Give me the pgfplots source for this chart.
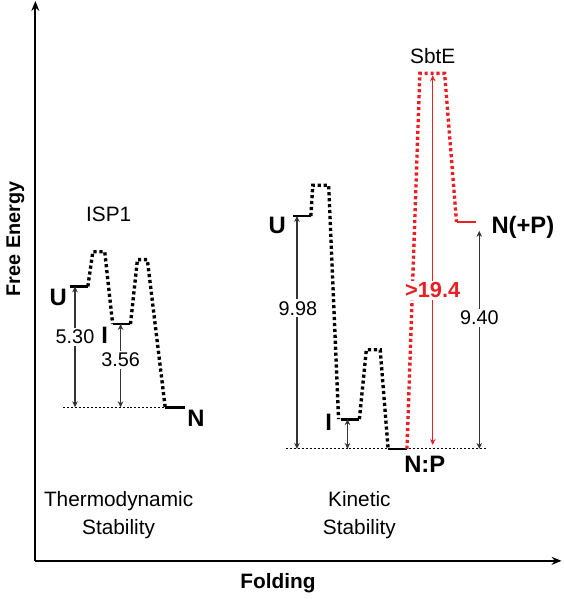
\documentclass[border=0pt]{standalone}
\usepackage{pgfplots}
\pgfplotsset{compat=1.18}
\usepackage{fontspec}
\setmainfont{Liberation Sans}
\usetikzlibrary{arrows.meta}
\definecolor{sred}{RGB}{232,32,36}
\begin{document}
\begin{tikzpicture}[
 lvl/.style={line width=1.4pt},
 dots/.style={line width=1.7pt, dash pattern=on 1.6pt off 1.4pt},
 base/.style={line width=0.5pt, dash pattern=on 1pt off 1pt},
 dim/.style={line width=0.55pt, black!80, {Stealth[length=3pt,width=2.8pt]}-{Stealth[length=3pt,width=2.8pt]}},
 lab/.style={font=\fontsize{12}{14}\selectfont\bfseries},
 txt/.style={font=\fontsize{10.5}{14}\selectfont},
 num/.style={font=\fontsize{10}{12}\selectfont, fill=white, inner sep=1pt},
]
\begin{axis}[
 scale only axis, width=265.5pt, height=282.5pt,
 xmin=32, xmax=563, ymin=35, ymax=600,
 axis x line=bottom, axis y line=left,
 axis line style={line width=1pt, -{Stealth[length=5pt,width=4pt]}},
 xtick=\empty, ytick=\empty,
 clip=false,
 xlabel={Folding}, ylabel={Free Energy},
 xlabel style={at={(axis description cs:0.461,-0.0407)}, anchor=center, font=\fontsize{10.5}{12}\selectfont\bfseries},
 ylabel style={at={(axis description cs:-0.0377,0.575)}, anchor=center, font=\fontsize{10}{12}\selectfont\bfseries},
]
% ISP1
\addplot[lvl] coordinates {(67,312)(85,312)};
\addplot[dots] coordinates {(85,312)(90,347)(102,347)(110,274)};
\addplot[lvl] coordinates {(110,274)(128,274)};
\addplot[dots] coordinates {(128,274)(135,339)(145,339)(163,190)};
\addplot[lvl] coordinates {(163,190)(183,190)};
\addplot[base] coordinates {(60,190)(163,190)};
\addplot[dim] coordinates {(72,190)(72,312)};
\addplot[dim] coordinates {(118,190)(118,274)};
% Kinetic
\addplot[lvl] coordinates {(292,383)(310,383)};
\addplot[dots] coordinates {(310,383)(312,414)(328,414)(338,178)};
\addplot[lvl] coordinates {(340,178)(359,178)};
\addplot[dots] coordinates {(359,178)(366,248)(380,248)(388,148)};
\addplot[lvl] coordinates {(388,148)(407,148)};
\addplot[base] coordinates {(285,148)(488,148)};
\addplot[dim] coordinates {(296,148)(296,383)};
\addplot[dim] coordinates {(347,148)(347,178)};
% SbtE
\addplot[dots, sred] coordinates {(407,148)(420,527)(445,527)(457,377)};
\addplot[lvl, sred] coordinates {(457,377)(477,377)};
\addplot[dim, sred, line width=0.7pt] coordinates {(433,152)(433,525)};
\addplot[dim] coordinates {(480,148)(480,368)};
% labels
\node[lab] at (axis cs:55,301) {U};
\node[lab] at (axis cs:102,263) {I};
\node[lab] at (axis cs:194,179) {N};
\node[txt] at (axis cs:106,385) {ISP1};
\node[num] at (axis cs:72,261) {5.30};
\node[num] at (axis cs:118,238) {3.56};
\node[lab] at (axis cs:276,373) {U};
\node[lab] at (axis cs:328,175) {I};
\node[num] at (axis cs:297,290) {9.98};
\node[lab] at (axis cs:425,132) {N:P};
\node[lab] at (axis cs:524,372) {N(+P)};
\node[txt] at (axis cs:433,544) {SbtE};
\node[lab, font=\fontsize{11}{13}\selectfont\bfseries, text=sred, fill=white, inner sep=1pt] at (axis cs:433,308) {>19.4};
\node[num] at (axis cs:480,280) {9.40};
\node[txt, align=center] at (axis cs:116,81) {Thermodynamic\\Stability};
\node[txt, align=center] at (axis cs:359,81) {Kinetic\\Stability};
\path (axis cs:0,0) rectangle (axis cs:565,600);
\end{axis}
\end{tikzpicture}
\end{document}
